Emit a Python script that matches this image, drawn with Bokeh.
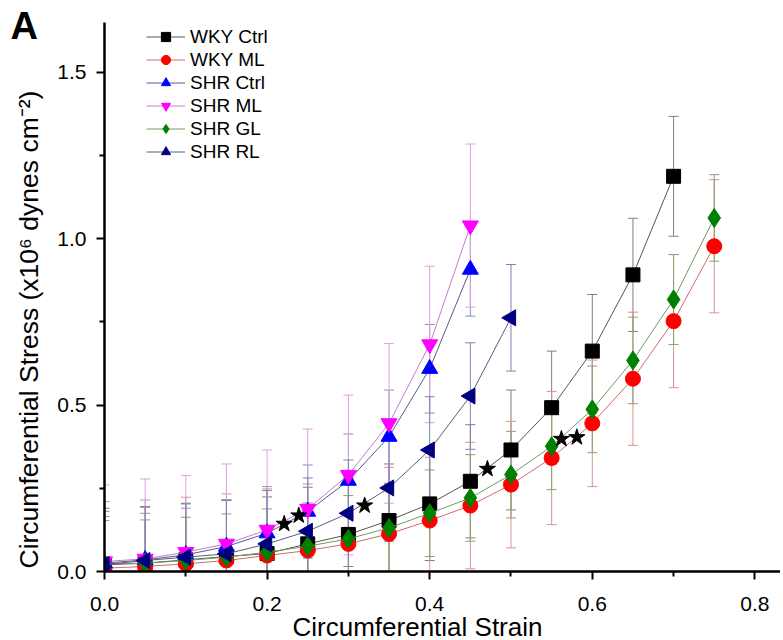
import numpy as np
from bokeh.plotting import figure
from bokeh.models import (ColumnDataSource, Whisker, TeeHead, Legend, LegendItem,
                          FixedTicker, PrintfTickFormatter, Title, Range1d)
from bokeh.embed import file_html
from bokeh.resources import INLINE

# ---------------- data ----------------
strain_wky_ctrl = [0.0, 0.05, 0.10, 0.15, 0.20, 0.25, 0.30, 0.35, 0.40, 0.45, 0.50, 0.55, 0.60, 0.65, 0.70]
stress_wky_ctrl = [0.020, 0.025, 0.035, 0.045, 0.054, 0.083, 0.111, 0.153, 0.203, 0.271, 0.365, 0.492, 0.662, 0.891, 1.187]
err_wky_ctrl = [0.17, 0.17, 0.17, 0.17, 0.17, 0.17, 0.17, 0.17, 0.17, 0.17, 0.18, 0.17, 0.17, 0.17, 0.18]

strain_wky_ml = [0.0, 0.05, 0.10, 0.15, 0.20, 0.25, 0.30, 0.35, 0.40, 0.45, 0.50, 0.55, 0.60, 0.65, 0.70, 0.75]
stress_wky_ml = [0.010, 0.015, 0.023, 0.033, 0.048, 0.063, 0.083, 0.113, 0.153, 0.198, 0.261, 0.341, 0.445, 0.579, 0.752, 0.977]
err_wky_ml = [0.20, 0.20, 0.20, 0.20, 0.20, 0.20, 0.20, 0.20, 0.19, 0.19, 0.19, 0.20, 0.19, 0.20, 0.20, 0.20]

strain_shr_ctrl = [0.0, 0.05, 0.10, 0.15, 0.20, 0.25, 0.30, 0.35, 0.40, 0.45]
stress_shr_ctrl = [0.025, 0.035, 0.050, 0.075, 0.115, 0.180, 0.273, 0.405, 0.609, 0.907]
err_shr_ctrl = [0.14, 0.14, 0.14, 0.14, 0.14, 0.14, 0.14, 0.14, 0.133, 0.14]

strain_shr_ml = [0.0, 0.05, 0.10, 0.15, 0.20, 0.25, 0.30, 0.35, 0.40, 0.45]
stress_shr_ml = [0.030, 0.038, 0.058, 0.083, 0.125, 0.188, 0.290, 0.445, 0.682, 1.039]
err_shr_ml = [0.23, 0.24, 0.23, 0.24, 0.24, 0.24, 0.24, 0.24, 0.235, 0.245]

strain_shr_gl = [0.0, 0.05, 0.10, 0.15, 0.20, 0.25, 0.30, 0.35, 0.40, 0.45, 0.50, 0.55, 0.60, 0.65, 0.70, 0.75]
stress_shr_gl = [0.023, 0.025, 0.033, 0.043, 0.058, 0.076, 0.098, 0.131, 0.175, 0.221, 0.291, 0.376, 0.487, 0.634, 0.817, 1.062]
err_shr_gl = [0.13, 0.13, 0.13, 0.13, 0.13, 0.13, 0.13, 0.13, 0.13, 0.13, 0.13, 0.13, 0.13, 0.13, 0.135, 0.13]

strain_shr_rl = [0.0, 0.05, 0.10, 0.15, 0.20, 0.25, 0.30, 0.35, 0.40, 0.45, 0.50]
stress_shr_rl = [0.021, 0.033, 0.043, 0.053, 0.083, 0.121, 0.175, 0.251, 0.365, 0.527, 0.762]
err_shr_rl = [0.16, 0.16, 0.16, 0.16, 0.16, 0.16, 0.16, 0.16, 0.16, 0.16, 0.16]

star_strain = [0.221, 0.239, 0.320, 0.471, 0.562, 0.581]
star_stress = [0.143, 0.168, 0.198, 0.308, 0.398, 0.403]

x_ticks = [0.0, 0.2, 0.4, 0.6, 0.8]
x_minor = [0.1, 0.3, 0.5, 0.7]
y_ticks = [0.0, 0.5, 1.0, 1.5]
y_minor = [0.25, 0.75, 1.25]

series = [
    ("WKY Ctrl", strain_wky_ctrl, stress_wky_ctrl, err_wky_ctrl, "square", 14, 0.0, "#000000", "#555555", "#808080"),
    ("WKY ML", strain_wky_ml, stress_wky_ml, err_wky_ml, "circle", 15, 0.0, "#ff0000", "#d06a6a", "#dc9090"),
    ("SHR Ctrl", strain_shr_ctrl, stress_shr_ctrl, err_shr_ctrl, "triangle", 16, 0.0, "#0000ff", "#5a5a8a", "#8c8cc8"),
    ("SHR ML", strain_shr_ml, stress_shr_ml, err_shr_ml, "inverted_triangle", 16, 0.0, "#ff00ff", "#c87ad0", "#dca0e0"),
    ("SHR GL", strain_shr_gl, stress_shr_gl, err_shr_gl, "diamond", 19, 0.0, "#008000", "#6f9a60", "#8aa070"),
    ("SHR RL", strain_shr_rl, stress_shr_rl, err_shr_rl, "triangle", 16, np.pi / 2, "#000080", "#5a5a80", "#8080b0"),
]

FONT = "Liberation Sans"

p = figure(width=780, height=640, output_backend="svg", toolbar_location=None,
           x_range=Range1d(0, 0.8315), y_range=Range1d(0, 1.649),
           min_border_left=104, min_border_right=0, min_border_top=22, min_border_bottom=69)
p.outline_line_color = None
p.xgrid.visible = False
p.ygrid.visible = False
p.background_fill_color = "white"
p.border_fill_color = "white"

# error bars first
for name, xs, ys, es, mk, sz, ang, col, lcol, ecol in series:
    src = ColumnDataSource(dict(x=xs, y=ys,
                                up=[a + b for a, b in zip(ys, es)],
                                lo=[a - b for a, b in zip(ys, es)]))
    w = Whisker(base="x", upper="up", lower="lo", source=src, dimension="height",
                line_color=ecol, line_width=1,
                upper_head=TeeHead(size=10, line_color=ecol, line_width=1),
                lower_head=TeeHead(size=10, line_color=ecol, line_width=1))
    p.add_layout(w)

items = []
for name, xs, ys, es, mk, sz, ang, col, lcol, ecol in series:
    src = ColumnDataSource(dict(x=xs, y=ys))
    lr = p.line("x", "y", source=src, line_color=lcol, line_width=1)
    sr = p.scatter("x", "y", source=src, marker=mk, size=sz, angle=ang,
                   fill_color=col, line_color=col)
    items.append(LegendItem(label=name, renderers=[lr, sr]))

p.scatter(star_strain, star_stress, marker="star", size=17,
          fill_color="black", line_color="black")

legend = Legend(items=items, location=(42, 408), orientation="vertical",
                label_text_font=FONT, label_text_font_size="19px",
                label_text_color="black", glyph_width=39, glyph_height=23,
                label_height=23, label_standoff=5, spacing=0, padding=1,
                margin=0, border_line_color=None, background_fill_alpha=0)
p.add_layout(legend)

for ax, ticks, minor in ((p.xaxis[0], x_ticks, x_minor), (p.yaxis[0], y_ticks, y_minor)):
    ax.ticker = FixedTicker(ticks=ticks, minor_ticks=minor)
    ax.formatter = PrintfTickFormatter(format="%.1f")
    ax.axis_line_width = 2.5
    ax.axis_line_color = "black"
    ax.major_tick_line_width = 2
    ax.minor_tick_line_width = 2
    ax.major_tick_in = 0
    ax.major_tick_out = 8
    ax.minor_tick_in = 0
    ax.minor_tick_out = 5
    ax.major_label_text_font = FONT
    ax.major_label_text_font_size = "21px"
    ax.major_label_text_color = "black"

p.xaxis.major_label_standoff = 17
p.yaxis.major_label_standoff = 10

# axis titles placed like the reference (offset from the frame corners)
x_title = Title(text="Circumferential Strain", align="left", offset=188, standoff=-8,
                text_font=FONT, text_font_size="26px", text_font_style="normal",
                text_color="black")
p.add_layout(x_title, "below")

y_title = Title(text="Circumferential Stress (x10\u2076 dynes cm\u207b\u00b2)",
                align="left", offset=3, standoff=22,
                text_font=FONT, text_font_size="26.5px", text_font_style="normal",
                text_color="black")
p.add_layout(y_title, "left")

panel_title = Title(text="A", align="left", offset=-94, standoff=-48,
                    text_font=FONT, text_font_size="38px", text_font_style="bold",
                    text_color="black")
p.add_layout(panel_title, "above")

open("out.html", "w").write(file_html(p, INLINE))
